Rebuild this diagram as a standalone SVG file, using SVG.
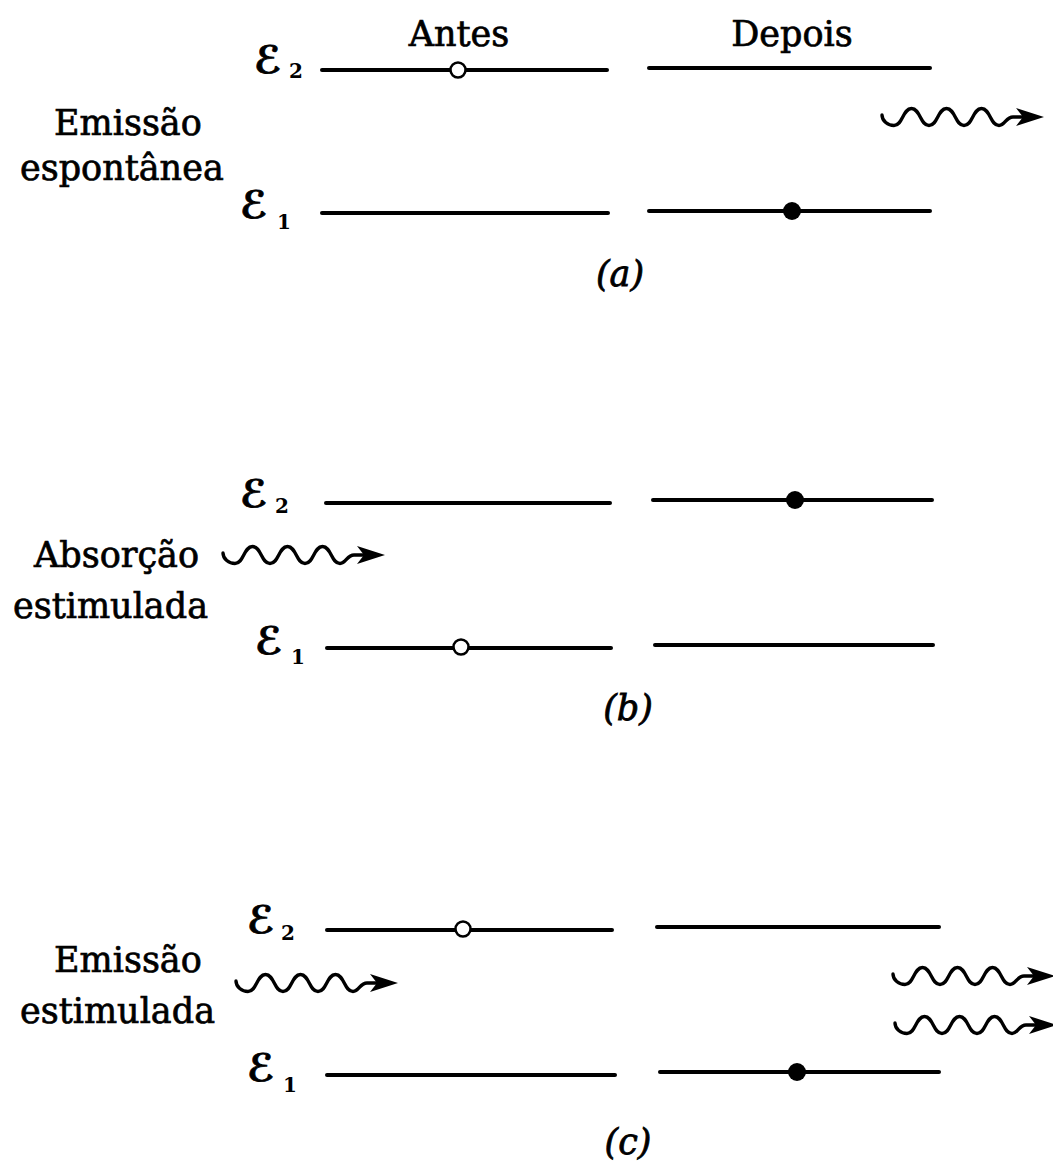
<svg xmlns="http://www.w3.org/2000/svg" width="1053" height="1165" viewBox="0 0 1053 1165">
<defs>
<style>
 .lbl { font-family: "DejaVu Serif", "Liberation Serif", serif; font-size: 35px; fill: #000; stroke: #000; stroke-width: 0.7px; }
 .cap { font-family: "DejaVu Serif", "Liberation Serif", serif; font-size: 35px; font-style: italic; text-anchor: middle; fill: #000; stroke: #000; stroke-width: 0.8px; }
 .sym { font-family: "DejaVu Sans", "DejaVu Serif", sans-serif; font-size: 38px; font-weight: bold; fill: #000; stroke: #000; stroke-width: 0.8px; }
 .sub { font-family: "DejaVu Serif", "Liberation Serif", serif; font-size: 20px; font-weight: bold; fill: #000; }
 .lvl { stroke: #000; stroke-width: 4; stroke-linecap: round; fill: none; }
 .open { fill: #fff; stroke: #000; stroke-width: 2.5; }
 .full { fill: #000; }
 .wave { fill: none; stroke: #000; stroke-width: 3.4; stroke-linecap: round; }
</style>
<g id="photon">
 <path class="wave" d="M0,-2 C0,4 6,8.5 12,8.5 C20.75,8.5 20.75,-8.5 29.5,-8.5 C38.25,-8.5 38.25,8.5 47,8.5 C55.75,8.5 55.75,-8.5 64.5,-8.5 C73.25,-8.5 73.25,8.5 82,8.5 C90.75,8.5 90.75,-8.5 99.5,-8.5 C108.25,-8.5 108.25,8.5 117,8.5 C123,8.5 124,0 131,0 L145,0"/>
 <path d="M162,0 L134,-9 L141,0 L134,9 Z" fill="#000"/>
</g>
</defs>
<rect width="1053" height="1165" fill="#fff"/>

<!-- Panel (a) -->
<g id="panel-a">
 <g id="a-headers">
  <text class="lbl" x="459" y="46" text-anchor="middle">Antes</text>
  <text class="lbl" x="792" y="46" text-anchor="middle">Depois</text>
 </g>
 <g id="a-label">
  <text class="lbl" x="54" y="135">Emissão</text>
  <text class="lbl" x="20" y="180">espontânea</text>
 </g>
 <g id="a-E2">
  <text class="sym" x="254" y="73">ℰ</text><text class="sub" x="289" y="78">2</text>
  <line class="lvl" x1="322" y1="70" x2="607" y2="70"/>
  <circle class="open" cx="458" cy="70" r="7.5"/>
  <line class="lvl" x1="649" y1="68" x2="930" y2="68"/>
 </g>
 <g id="a-E1">
  <text class="sym" x="240" y="218">ℰ</text><text class="sub" x="277" y="229">1</text>
  <line class="lvl" x1="322" y1="213" x2="608" y2="213"/>
  <line class="lvl" x1="649" y1="211" x2="930" y2="211"/>
  <circle class="full" cx="792" cy="211" r="9"/>
 </g>
 <text class="cap" x="620" y="286">(a)</text>
</g>

<!-- Panel (b) -->
<g id="panel-b">
 <g id="b-label">
  <text class="lbl" x="34" y="567">Absorção</text>
  <text class="lbl" x="13" y="618">estimulada</text>
 </g>
 <g id="b-E2">
  <text class="sym" x="240" y="507">ℰ</text><text class="sub" x="275" y="513">2</text>
  <line class="lvl" x1="326" y1="503" x2="610" y2="503"/>
  <line class="lvl" x1="653" y1="500" x2="932" y2="500"/>
  <circle class="full" cx="795" cy="500" r="9"/>
 </g>
 <g id="b-E1">
  <text class="sym" x="255" y="654">ℰ</text><text class="sub" x="291" y="664">1</text>
  <line class="lvl" x1="327" y1="648" x2="611" y2="648"/>
  <circle class="open" cx="461" cy="647" r="7.5"/>
  <line class="lvl" x1="655" y1="645" x2="933" y2="645"/>
 </g>
 <text class="cap" x="628" y="720">(b)</text>
</g>

<!-- Panel (c) -->
<g id="panel-c">
 <g id="c-label">
  <text class="lbl" x="54" y="972">Emissão</text>
  <text class="lbl" x="20" y="1023">estimulada</text>
 </g>
 <g id="c-E2">
  <text class="sym" x="247" y="933">ℰ</text><text class="sub" x="281" y="940">2</text>
  <line class="lvl" x1="327" y1="930" x2="612" y2="930"/>
  <circle class="open" cx="463" cy="929" r="7.5"/>
  <line class="lvl" x1="657" y1="927" x2="939" y2="927"/>
 </g>
 <g id="c-E1">
  <text class="sym" x="247" y="1081">ℰ</text><text class="sub" x="283" y="1092">1</text>
  <line class="lvl" x1="327" y1="1075" x2="615" y2="1075"/>
  <line class="lvl" x1="660" y1="1072" x2="939" y2="1072"/>
  <circle class="full" cx="797" cy="1072" r="9"/>
 </g>
 <text class="cap" x="628" y="1154">(c)</text>
</g>

<!-- Photons (connectors) -->
<g id="connectors">
 <use href="#photon" transform="translate(882,117)"/>
 <use href="#photon" transform="translate(223,555)"/>
 <use href="#photon" transform="translate(236,983)"/>
 <use href="#photon" transform="translate(893,976)"/>
 <use href="#photon" transform="translate(895,1025)"/>
</g>
</svg>
